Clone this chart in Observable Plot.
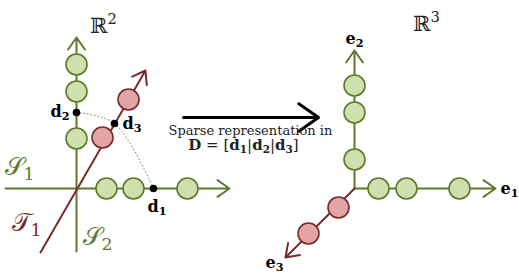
<!DOCTYPE html>
<html>
<head>
<meta charset="utf-8">
<script src="https://cdn.jsdelivr.net/npm/d3@7"></script>
<script src="https://cdn.jsdelivr.net/npm/@observablehq/plot@0.6"></script>
<style>
html,body{margin:0;padding:0;background:#fff;}
svg{display:block;}
</style>
</head>
<body>
<div id="chart"></div>
<script>
// ---- Left panel (R^2): subspaces S1, S2, T1 ----
const leftAxesGreen = [
  {x1: 5,  y1: 188, x2: 229, y2: 188},   // S1 (horizontal)
  {x1: 76, y1: 251, x2: 76,  y2: 37}     // S2 (vertical)
];
const leftAxisRed = [{x1: 40, y1: 252, x2: 145, y2: 70}]; // T1
const s1Points = [{x: 106, y: 188}, {x: 133, y: 188}, {x: 187, y: 188}];
const s2Points = [{x: 76, y: 64}, {x: 76, y: 91}, {x: 76, y: 138}];
const t1Points = [{x: 128, y: 99}, {x: 102, y: 137}];
const atoms = [
  {x: 76,  y: 112},  // d2
  {x: 114, y: 123},  // d3
  {x: 153, y: 188}   // d1
];
const labelD2 = [{x: 69,  y: 111, text: "*d*_*2*"}];
const labelD3 = [{x: 122, y: 123, text: "*d*_*3*"}];
const labelD1 = [{x: 147, y: 206, text: "*d*_*1*"}];
const subspaceGreen = [
  {x: 4,  y: 166, text: "\u{1D4AE}_1"},
  {x: 82, y: 236, text: "\u{1D4AE}_2"}
];
const subspaceRed = [{x: 11, y: 222, text: "\u{1D4AF}_1"}];

// ---- Middle: mapping arrow ----
const mapArrow = [{x1: 183, y1: 117, x2: 318, y2: 117}];
const mapCaption = [{x: 250, y: 130, text: "Sparse representation in"}];
const mapFormula = [{x: 243, y: 145, text: "*D* = [*d*_*1*|*d*_*2*|*d*_*3*]"}];

// ---- Right panel (R^3): coordinate axes ----
const rightAxesGreen = [
  {x1: 354, y1: 188, x2: 495, y2: 188},  // e1
  {x1: 354, y1: 188, x2: 354, y2: 50}    // e2
];
const rightAxisRed = [{x1: 354, y1: 188, x2: 285, y2: 257}]; // e3
const e1Points = [{x: 378, y: 188}, {x: 406, y: 188}, {x: 459, y: 188}];
const e2Points = [{x: 354, y: 85}, {x: 354, y: 112}, {x: 354, y: 159}];
const e3Points = [{x: 338, y: 207}, {x: 308, y: 233}];
const labelsMiddle = [
  {x: 354, y: 38,  text: "*e*_*2*"},
  {x: 274, y: 262, text: "*e*_*3*"}
];
const labelE1 = [{x: 500, y: 188, text: "*e*_*1*"}];
const spaceLabels = [
  {x: 103, y: 26, text: "\u211D^2"},
  {x: 426, y: 24, text: "\u211D^3"}
];

const GREEN = "#5d7a2c", GREEN_FILL = "#cfe0ae";
const RED = "#7a2b2b", RED_FILL = "#e2a5a5";
const SERIF = "'DejaVu Serif', serif";
const seg = {x1: "x1", y1: "y1", x2: "x2", y2: "y2"};
const lab = {x: "x", y: "y", text: "text", fontFamily: SERIF, fill: "#000", fontSize: 16};

const plot = Plot.plot({
  width: 519, height: 273, margin: 0,
  x: {domain: [0, 519], range: [0, 519], axis: null},
  y: {domain: [0, 273], range: [0, 273], axis: null},
  style: {background: "#fff"},
  marks: [
    // dotted arc through d2, d3, d1
    Plot.line(atoms, {x: "x", y: "y", curve: "catmull-rom", stroke: "#8d8c5c", strokeWidth: 1, strokeDasharray: "1,2.6"}),
    // left axes
    Plot.arrow(leftAxesGreen, {...seg, stroke: GREEN, strokeWidth: 2, headLength: 11, headAngle: 70}),
    Plot.arrow(leftAxisRed, {...seg, stroke: RED, strokeWidth: 2, headLength: 11, headAngle: 70}),
    Plot.dot(s1Points, {x: "x", y: "y", r: 10.5, fill: GREEN_FILL, stroke: GREEN, strokeWidth: 1.6}),
    Plot.dot(s2Points, {x: "x", y: "y", r: 10.5, fill: GREEN_FILL, stroke: GREEN, strokeWidth: 1.6}),
    Plot.dot(t1Points, {x: "x", y: "y", r: 10.5, fill: RED_FILL, stroke: RED, strokeWidth: 1.6}),
    Plot.dot(atoms, {x: "x", y: "y", r: 3.8, fill: "#000"}),
    // right axes
    Plot.arrow(rightAxesGreen, {...seg, stroke: GREEN, strokeWidth: 2, headLength: 11, headAngle: 70}),
    Plot.arrow(rightAxisRed, {...seg, stroke: RED, strokeWidth: 2, headLength: 11, headAngle: 70}),
    Plot.dot(e1Points, {x: "x", y: "y", r: 10.5, fill: GREEN_FILL, stroke: GREEN, strokeWidth: 1.6}),
    Plot.dot(e2Points, {x: "x", y: "y", r: 10.5, fill: GREEN_FILL, stroke: GREEN, strokeWidth: 1.6}),
    Plot.dot(e3Points, {x: "x", y: "y", r: 10.5, fill: RED_FILL, stroke: RED, strokeWidth: 1.6}),
    // middle arrow
    Plot.arrow(mapArrow, {...seg, stroke: "#000", strokeWidth: 3, headLength: 12, headAngle: 70}),
    // texts
    Plot.text(mapCaption, {...lab, fontSize: 13, fill: "#222"}),
    Plot.text(mapFormula, {...lab, fontSize: 15, fill: "#222"}),
    Plot.text(labelD2, {...lab, textAnchor: "end"}),
    Plot.text(labelD3, {...lab, textAnchor: "start"}),
    Plot.text(labelD1, {...lab, textAnchor: "start"}),
    Plot.text(labelsMiddle, {...lab, textAnchor: "middle"}),
    Plot.text(labelE1, {...lab, textAnchor: "start"}),
    Plot.text(subspaceGreen, {...lab, textAnchor: "start", fontSize: 25, fill: GREEN}),
    Plot.text(subspaceRed, {...lab, textAnchor: "start", fontSize: 25, fill: RED}),
    Plot.text(spaceLabels, {...lab, fontSize: 21, fill: "#222"})
  ]
});

document.getElementById("chart").appendChild(plot);

// Mini-markup: *...* toggles bold, _c subscript, ^c superscript
function markup(svg) {
  const ns = "http://www.w3.org/2000/svg";
  svg.querySelectorAll("text").forEach(t => {
    const s = t.textContent;
    if (!/[_^*]/.test(s)) return;
    const fs = parseFloat(getComputedStyle(t).fontSize) || 12;
    t.textContent = "";
    let bold = false, buf = "", pendingDy = 0;
    const add = (txt, opts) => {
      const ts = document.createElementNS(ns, "tspan");
      ts.textContent = txt;
      if (opts.bold) ts.setAttribute("font-weight", "bold");
      if (opts.size) ts.setAttribute("font-size", opts.size);
      if (opts.dy) ts.setAttribute("dy", opts.dy);
      t.appendChild(ts);
    };
    const flush = () => {
      if (!buf) return;
      add(buf, {bold, dy: pendingDy});
      pendingDy = 0; buf = "";
    };
    for (let i = 0; i < s.length; i++) {
      const c = s[i];
      if (c === "*") { flush(); bold = !bold; continue; }
      if (c === "_" || c === "^") {
        flush();
        let j = i + 1, sb = false, ch = "";
        if (s[j] === "*") { sb = true; j++; ch = s[j]; j++; if (s[j] === "*") j++; }
        else { ch = s[j]; j++; }
        const shift = c === "_" ? fs * 0.2 : -fs * 0.42;
        add(ch, {bold: sb || bold, size: fs * 0.7, dy: shift + pendingDy});
        pendingDy = -shift;
        i = j - 1;
        continue;
      }
      buf += c;
    }
    flush();
  });
}
markup(plot);
</script>
</body>
</html>
